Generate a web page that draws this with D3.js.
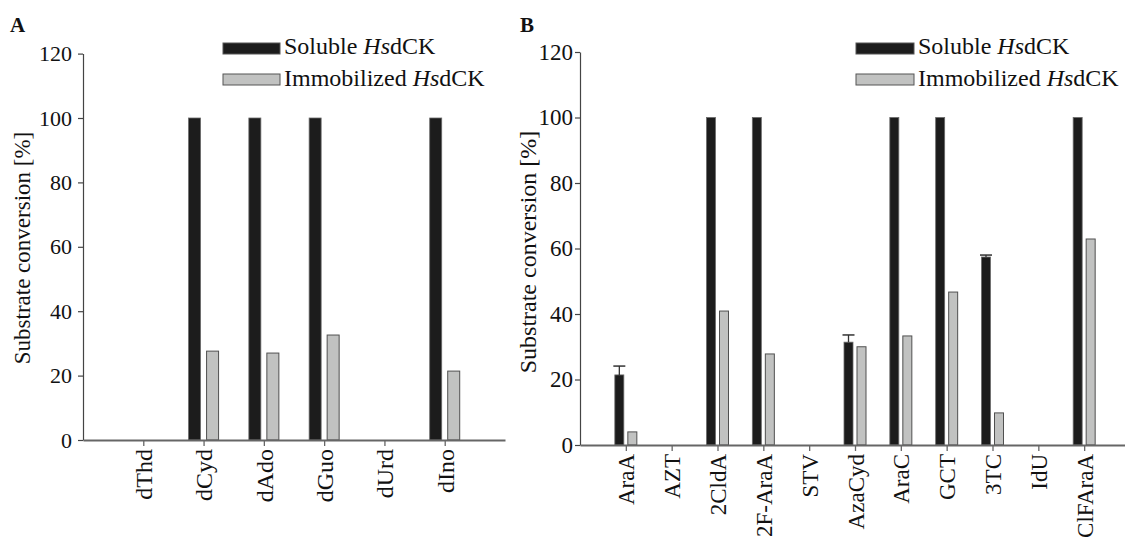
<!DOCTYPE html>
<html>
<head>
<meta charset="utf-8">
<script src="https://cdn.jsdelivr.net/npm/d3@7"></script>
<style>
  body { margin: 0; background: #fff; }
  text { font-family: 'Liberation Serif', 'Times New Roman', serif; fill: #111; }
</style>
</head>
<body>
<div id="graf"></div>
<script>
////DATOS
catsA = ['dThd', 'dCyd', 'dAdo', 'dGuo', 'dUrd', 'dIno']
solubleA = [0, 100, 100, 100, 0, 100]
immobA   = [0, 27.6, 27, 32.6, 0, 21.4]

catsB = ['AraA', 'AZT', '2CldA', '2F-AraA', 'STV', 'AzaCyd', 'AraC', 'GCT', '3TC', 'IdU', 'ClFAraA']
solubleB = [21.4, 0, 100, 100, 0, 31.4, 100, 100, 57.4, 0, 100]
solubleErrB = [2.7, 0, 0, 0, 0, 2.2, 0, 0, 0.6, 0, 0]
immobB   = [4.0, 0, 40.9, 27.8, 0, 30.0, 33.3, 46.7, 9.8, 0, 62.9]

yTicks = [0, 20, 40, 60, 80, 100, 120]
ejeTitulo = 'Substrate conversion [%]'

colores = { soluble: '#1c1c1c', immob: '#c1c2c1' }

////ESPACIO DE VISUALIZACIÓN
ancho_total = 1125
alto_total = 543
svg = d3.select('#graf').append('svg')
  .attr('width', ancho_total)
  .attr('height', alto_total)

////PANEL GENÉRICO
function panel(p) {
  g = svg.append('g')

  x = d3.scalePoint().domain(p.cats).range([p.x0, p.x1]).padding(1)
  y = d3.scaleLinear().domain([0, 120]).range([p.y0, p.y1])

  // eje Y
  yAxis = g.append('g')
    .attr('transform', `translate(${p.x0},0)`)
    .call(d3.axisLeft(y).tickValues(yTicks).tickSize(5).tickSizeOuter(0).tickPadding(p.yPad))
  yAxis.select('.domain').attr('stroke', '#444').attr('stroke-width', 1.2)
  yAxis.selectAll('.tick line').attr('stroke', '#444').attr('stroke-width', 1.2)
  yAxis.selectAll('.tick text')
    .attr('font-size', p.fTick)
    .attr('font-family', 'Liberation Serif')
    .attr('fill', '#111')

  // barras
  datos = p.cats.map((c, i) => ({ c: c, s: p.sol[i], m: p.imm[i], e: p.err ? p.err[i] : 0 }))
  gb = g.append('g').selectAll('g').data(datos).join('g')

  gb.filter(d => d.s > 0).append('rect')
    .attr('x', d => x(d.c) - p.gap / 2 - p.barW)
    .attr('y', d => y(d.s))
    .attr('width', p.barW)
    .attr('height', d => y(0) - y(d.s))
    .attr('fill', colores.soluble)
    .attr('stroke', '#6a6a6a')
    .attr('stroke-width', 0.8)

  gb.filter(d => d.m > 0).append('rect')
    .attr('x', d => x(d.c) + p.gap / 2)
    .attr('y', d => y(d.m))
    .attr('width', p.barW)
    .attr('height', d => y(0) - y(d.m))
    .attr('fill', colores.immob)
    .attr('stroke', '#505050')
    .attr('stroke-width', 1)

  // barras de error
  eb = gb.filter(d => d.e > 0)
  eb.append('line')
    .attr('x1', d => x(d.c) - p.gap / 2 - p.barW / 2)
    .attr('x2', d => x(d.c) - p.gap / 2 - p.barW / 2)
    .attr('y1', d => y(d.s))
    .attr('y2', d => y(d.s + d.e))
    .attr('stroke', '#333').attr('stroke-width', 1.3)
  eb.append('line')
    .attr('x1', d => x(d.c) - p.gap / 2 - p.barW / 2 - 6)
    .attr('x2', d => x(d.c) - p.gap / 2 - p.barW / 2 + 6)
    .attr('y1', d => y(d.s + d.e))
    .attr('y2', d => y(d.s + d.e))
    .attr('stroke', '#333').attr('stroke-width', 1.5)

  // eje X
  xAxis = g.append('g')
    .attr('transform', `translate(0,${p.y0})`)
    .call(d3.axisBottom(x).tickSize(6).tickSizeOuter(0).tickPadding(0))
  xAxis.select('.domain').attr('stroke', '#666').attr('stroke-width', 2)
  xAxis.selectAll('.tick line').attr('stroke', '#666').attr('stroke-width', 1.3)
  xAxis.selectAll('.tick text')
    .attr('font-size', p.fCat)
    .attr('font-family', 'Liberation Serif')
    .attr('fill', '#111')
    .attr('text-anchor', 'end')
    .attr('transform', `translate(0,${p.labPad}) rotate(-90)`)
    .attr('x', 0)
    .attr('y', 0)
    .attr('dy', '0.35em')

  // título del eje Y
  g.append('text')
    .attr('transform', `translate(${p.tx},${p.ty}) rotate(-90)`)
    .attr('text-anchor', 'middle')
    .attr('font-size', p.fTitle)
    .text(ejeTitulo)

  // letra del panel
  g.append('text')
    .attr('x', p.lx)
    .attr('y', 32)
    .attr('font-size', 21)
    .attr('font-weight', 'bold')
    .text(p.letra)

  // leyenda
  leg = g.append('g').attr('transform', `translate(${p.legX},0)`)
  leg.append('rect').attr('x', 0).attr('y', 43).attr('width', p.legW).attr('height', 11)
    .attr('fill', colores.soluble).attr('stroke', '#555').attr('stroke-width', 1)
  leg.append('rect').attr('x', 0).attr('y', 74).attr('width', p.legW).attr('height', 11)
    .attr('fill', colores.immob).attr('stroke', '#555').attr('stroke-width', 1)
  t1 = leg.append('text').attr('x', p.legW + 4).attr('y', 54).attr('font-size', p.fLeg)
  t1.append('tspan').text('Soluble ')
  t1.append('tspan').attr('font-style', 'italic').text('Hs')
  t1.append('tspan').text('dCK')
  t2 = leg.append('text').attr('x', p.legW + 4).attr('y', 86).attr('font-size', p.fLeg)
  t2.append('tspan').text('Immobilized ')
  t2.append('tspan').attr('font-style', 'italic').text('Hs')
  t2.append('tspan').text('dCK')
}

////PANEL A
panel({
  cats: catsA, sol: solubleA, imm: immobA, err: null,
  x0: 83, x1: 505, y0: 440, y1: 53.6,
  barW: 12, gap: 6, yPad: 6, labPad: 9,
  fTick: 22, fCat: 24, fTitle: 23, fLeg: 24,
  tx: 30, ty: 248, lx: 10, letra: 'A',
  legX: 223, legW: 57
})

////PANEL B
panel({
  cats: catsB, sol: solubleB, imm: immobB, err: solubleErrB,
  x0: 580, x1: 1130, y0: 445, y1: 52,
  barW: 9, gap: 4, yPad: 2, labPad: 9,
  fTick: 23, fCat: 23, fTitle: 24, fLeg: 24,
  tx: 536, ty: 252, lx: 520, letra: 'B',
  legX: 856, legW: 58
})
</script>
</body>
</html>
